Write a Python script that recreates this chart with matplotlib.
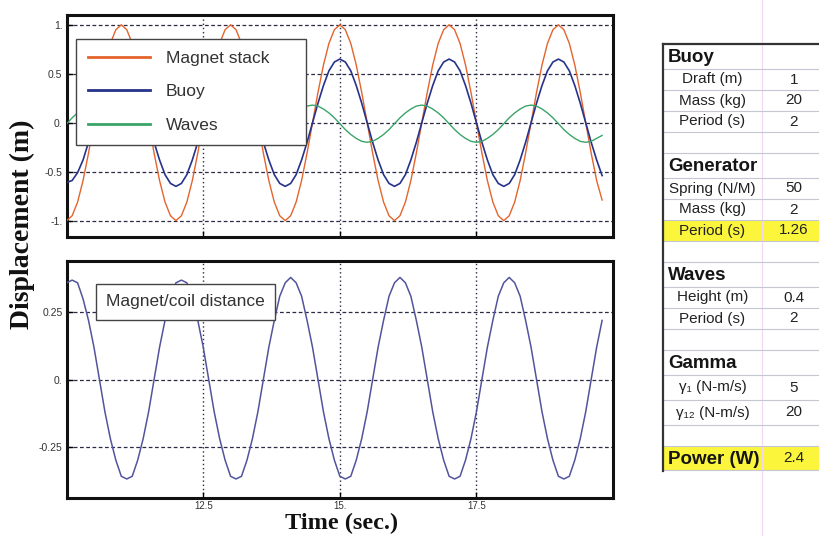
import numpy as np
import matplotlib.pyplot as plt

# sample times (s) read along the x axis
time = [10.0, 10.1, 10.2, 10.3, 10.4, 10.5, 10.6, 10.7, 10.8, 10.9,
        11.0, 11.1, 11.2, 11.3, 11.4, 11.5, 11.6, 11.7, 11.8, 11.9,
        12.0, 12.1, 12.2, 12.3, 12.4, 12.5, 12.6, 12.7, 12.8, 12.9,
        13.0, 13.1, 13.2, 13.3, 13.4, 13.5, 13.6, 13.7, 13.8, 13.9,
        14.0, 14.1, 14.2, 14.3, 14.4, 14.5, 14.6, 14.7, 14.8, 14.9,
        15.0, 15.1, 15.2, 15.3, 15.4, 15.5, 15.6, 15.7, 15.8, 15.9,
        16.0, 16.1, 16.2, 16.3, 16.4, 16.5, 16.6, 16.7, 16.8, 16.9,
        17.0, 17.1, 17.2, 17.3, 17.4, 17.5, 17.6, 17.7, 17.8, 17.9,
        18.0, 18.1, 18.2, 18.3, 18.4, 18.5, 18.6, 18.7, 18.8, 18.9,
        19.0, 19.1, 19.2, 19.3, 19.4, 19.5, 19.6, 19.7, 19.8]

magnet_stack = [-1.00, -0.95, -0.81, -0.59, -0.31, 0.00, 0.31, 0.59, 0.81, 0.95,
                1.00, 0.95, 0.81, 0.59, 0.31, 0.00, -0.31, -0.59, -0.81, -0.95,
                -1.00, -0.95, -0.81, -0.59, -0.31, 0.00, 0.31, 0.59, 0.81, 0.95,
                1.00, 0.95, 0.81, 0.59, 0.31, 0.00, -0.31, -0.59, -0.81, -0.95,
                -1.00, -0.95, -0.81, -0.59, -0.31, 0.00, 0.31, 0.59, 0.81, 0.95,
                1.00, 0.95, 0.81, 0.59, 0.31, 0.00, -0.31, -0.59, -0.81, -0.95,
                -1.00, -0.95, -0.81, -0.59, -0.31, 0.00, 0.31, 0.59, 0.81, 0.95,
                1.00, 0.95, 0.81, 0.59, 0.31, 0.00, -0.31, -0.59, -0.81, -0.95,
                -1.00, -0.95, -0.81, -0.59, -0.31, 0.00, 0.31, 0.59, 0.81, 0.95,
                1.00, 0.95, 0.81, 0.59, 0.31, 0.00, -0.31, -0.59, -0.79]

buoy = [-0.61, -0.59, -0.51, -0.38, -0.20, 0.00, 0.20, 0.38, 0.53, 0.62,
        0.65, 0.62, 0.53, 0.38, 0.20, 0.00, -0.20, -0.38, -0.53, -0.62,
        -0.65, -0.62, -0.53, -0.38, -0.20, 0.00, 0.20, 0.38, 0.53, 0.62,
        0.65, 0.62, 0.53, 0.38, 0.20, 0.00, -0.20, -0.38, -0.53, -0.62,
        -0.65, -0.62, -0.53, -0.38, -0.20, 0.00, 0.20, 0.38, 0.53, 0.62,
        0.65, 0.62, 0.53, 0.38, 0.20, 0.00, -0.20, -0.38, -0.53, -0.62,
        -0.65, -0.62, -0.53, -0.38, -0.20, 0.00, 0.20, 0.38, 0.53, 0.62,
        0.65, 0.62, 0.53, 0.38, 0.20, 0.00, -0.20, -0.38, -0.53, -0.62,
        -0.65, -0.62, -0.53, -0.38, -0.20, 0.00, 0.20, 0.38, 0.53, 0.62,
        0.65, 0.62, 0.53, 0.38, 0.20, 0.00, -0.20, -0.38, -0.54]

waves = [-0.01, 0.05, 0.10, 0.14, 0.17, 0.18, 0.17, 0.14, 0.10, 0.05,
         -0.01, -0.07, -0.12, -0.16, -0.19, -0.20, -0.19, -0.16, -0.12, -0.07,
         -0.01, 0.05, 0.10, 0.14, 0.17, 0.18, 0.17, 0.14, 0.10, 0.05,
         -0.01, -0.07, -0.12, -0.16, -0.19, -0.20, -0.19, -0.16, -0.12, -0.07,
         -0.01, 0.05, 0.10, 0.14, 0.17, 0.18, 0.17, 0.14, 0.10, 0.05,
         -0.01, -0.07, -0.12, -0.16, -0.19, -0.20, -0.19, -0.16, -0.12, -0.07,
         -0.01, 0.05, 0.10, 0.14, 0.17, 0.18, 0.17, 0.14, 0.10, 0.05,
         -0.01, -0.07, -0.12, -0.16, -0.19, -0.20, -0.19, -0.16, -0.12, -0.07,
         -0.01, 0.05, 0.10, 0.14, 0.17, 0.18, 0.17, 0.14, 0.10, 0.05,
         -0.01, -0.07, -0.12, -0.16, -0.19, -0.20, -0.19, -0.16, -0.13]

coil_distance = [0.36, 0.37, 0.36, 0.30, 0.22, 0.12, 0.00, -0.12, -0.22, -0.30,
                 -0.36, -0.37, -0.36, -0.30, -0.22, -0.12, 0.00, 0.12, 0.22, 0.30,
                 0.36, 0.37, 0.36, 0.30, 0.22, 0.12, 0.00, -0.12, -0.22, -0.30,
                 -0.36, -0.37, -0.36, -0.30, -0.22, -0.12, 0.00, 0.12, 0.22, 0.31,
                 0.36, 0.38, 0.36, 0.31, 0.22, 0.12, 0.00, -0.12, -0.22, -0.30,
                 -0.36, -0.37, -0.36, -0.30, -0.22, -0.12, 0.00, 0.12, 0.22, 0.31,
                 0.36, 0.38, 0.36, 0.31, 0.22, 0.12, 0.00, -0.12, -0.22, -0.30,
                 -0.36, -0.37, -0.36, -0.30, -0.22, -0.12, 0.00, 0.12, 0.22, 0.31,
                 0.36, 0.38, 0.36, 0.31, 0.22, 0.12, 0.00, -0.12, -0.22, -0.30,
                 -0.36, -0.37, -0.36, -0.30, -0.22, -0.12, 0.00, 0.12, 0.22]

xticks = [12.5, 15, 17.5]
xtick_labels = ['12.5', '15.', '17.5']
top_yticks = [1, 0.5, 0, -0.5, -1]
top_ytick_labels = ['1.', '0.5', '0.', '-0.5', '-1.']
bot_yticks = [0.25, 0, -0.25]
bot_ytick_labels = ['0.25', '0.', '-0.25']

table_labels = ['Buoy', 'Draft (m)', 'Mass (kg)', 'Period (s)', '',
                'Generator', 'Spring (N/M)', 'Mass (kg)', 'Period (s)', '',
                'Waves', 'Height (m)', 'Period (s)', '',
                'Gamma', 'γ₁ (N-m/s)', 'γ₁₂ (N-m/s)', '',
                'Power (W)']
table_values = ['', '1', '20', '2', '',
                '', '50', '2', '1.26', '',
                '', '0.4', '2', '',
                '', '5', '20', '',
                '2.4']
bold_rows = ['Buoy', 'Generator', 'Waves', 'Gamma', 'Power (W)']
highlight_rows = [8, 18]

SANS = ['Liberation Sans', 'DejaVu Sans']
SERIF = ['Liberation Serif', 'DejaVu Serif']
GRID = '#2b2b45'

fig = plt.figure(figsize=(8.2, 5.36), dpi=100)

# table drawn in figure pixel coordinates
axt = fig.add_axes([0, 0, 1, 1], zorder=0)
axt.set_xlim(0, 820)
axt.set_ylim(536, 0)
axt.axis('off')

row_h = [25, 21, 21, 21, 21, 25, 21, 21, 21, 21, 25, 21, 21, 21, 25, 25, 25, 21, 24]
tx0, tdiv, tx1, ty0 = 663, 762, 830, 44
axt.plot([tdiv, tdiv], [0, 536], color='#f0d6ee', lw=0.8)
y = ty0
for i, (lab, val) in enumerate(zip(table_labels, table_values)):
    h = row_h[i]
    if i in highlight_rows:
        axt.add_patch(plt.Rectangle((tx0, y), tx1 - tx0, h, fc='#fbf53c', ec='none'))
    yc = y + h / 2
    if lab in bold_rows:
        axt.text(tx0 + 5, yc + 1, lab, ha='left', va='center', family=SANS,
                 weight='bold', size=13.5, color='#151515')
    else:
        axt.text((tx0 + tdiv) / 2, yc, lab, ha='center', va='center', family=SANS,
                 size=11, color='#222222')
    axt.text(794, yc, val, ha='center', va='center', family=SANS, size=11, color='#222222')
    y += h
    axt.plot([tx0, tx1], [y, y], color='#c4c6d4', lw=0.8)
axt.plot([tx0, tx1], [ty0, ty0], color='#333333', lw=1.6)
axt.plot([tx0, tx0], [ty0, y + 1], color='#333333', lw=1.6)


def style_axes(ax, yticks, ylabels):
    ax.set_xlim(10, 20)
    ax.set_xticks(xticks)
    ax.set_xticklabels(xtick_labels)
    ax.set_yticks(yticks)
    ax.set_yticklabels(ylabels)
    for sp in ax.spines.values():
        sp.set_linewidth(2.2)
        sp.set_color('#111111')
    ax.tick_params(direction='in', length=4, width=1, labelsize=7.5,
                   labelcolor='#333333', pad=3, top=False, right=False)
    ax.tick_params(axis='x', labelsize=7, pad=2)
    for lbl in ax.get_xticklabels() + ax.get_yticklabels():
        lbl.set_family(SANS)
    for yv in yticks:
        ax.axhline(yv, color=GRID, lw=0.9, ls=(0, (3, 2)), zorder=1)
    for xv in xticks:
        ax.axvline(xv, color=GRID, lw=1.0, ls=(0, (1, 2)), zorder=1)


ax1 = fig.add_axes([0.0813, 0.5573, 0.6663, 0.4147], zorder=1)
ax1.plot(time, magnet_stack, color='#e4642c', lw=1.0, label='Magnet stack', zorder=3)
ax1.plot(time, buoy, color='#26338a', lw=1.2, label='Buoy', zorder=3)
ax1.plot(time, waves, color='#3aa468', lw=1.0, label='Waves', zorder=3)
ax1.set_ylim(-1.17, 1.10)
style_axes(ax1, top_yticks, top_ytick_labels)
ax1.tick_params(labelbottom=False)

leg = ax1.legend(loc='upper left', bbox_to_anchor=(0.017, 0.406, 0.421, 0.486),
                 mode='expand', fancybox=False, framealpha=1, edgecolor='#444444',
                 handlelength=3.6, handletextpad=0.9, labelspacing=1.05, borderpad=0.68,
                 borderaxespad=0, prop={'family': SANS, 'size': 12.5})
leg.get_frame().set_linewidth(1.0)
leg.set_zorder(5)
for t in leg.get_texts():
    t.set_color('#333333')
for ln in leg.get_lines():
    ln.set_linewidth(2.0)

ax2 = fig.add_axes([0.0813, 0.0703, 0.6663, 0.4427], zorder=1)
ax2.plot(time, coil_distance, color='#52549c', lw=1.1, zorder=3)
ax2.set_ylim(-0.442, 0.441)
style_axes(ax2, bot_yticks, bot_ytick_labels)
ax2.text(0.2175, 0.829, 'Magnet/coil distance', transform=ax2.transAxes,
         ha='center', va='center', family=SANS, size=12.5, color='#333333', zorder=5,
         bbox=dict(boxstyle='square,pad=0.6', fc='white', ec='#444444', lw=1.0))

fig.text(0.027, 0.582, 'Displacement (m)', rotation=90, ha='center', va='center',
         family=SERIF, weight='bold', size=20, color='#111111')
fig.text(0.417, 0.004, 'Time (sec.)', ha='center', va='bottom',
         family=SERIF, weight='bold', size=17.5, color='#111111')

fig.savefig('out.png', dpi=100)
